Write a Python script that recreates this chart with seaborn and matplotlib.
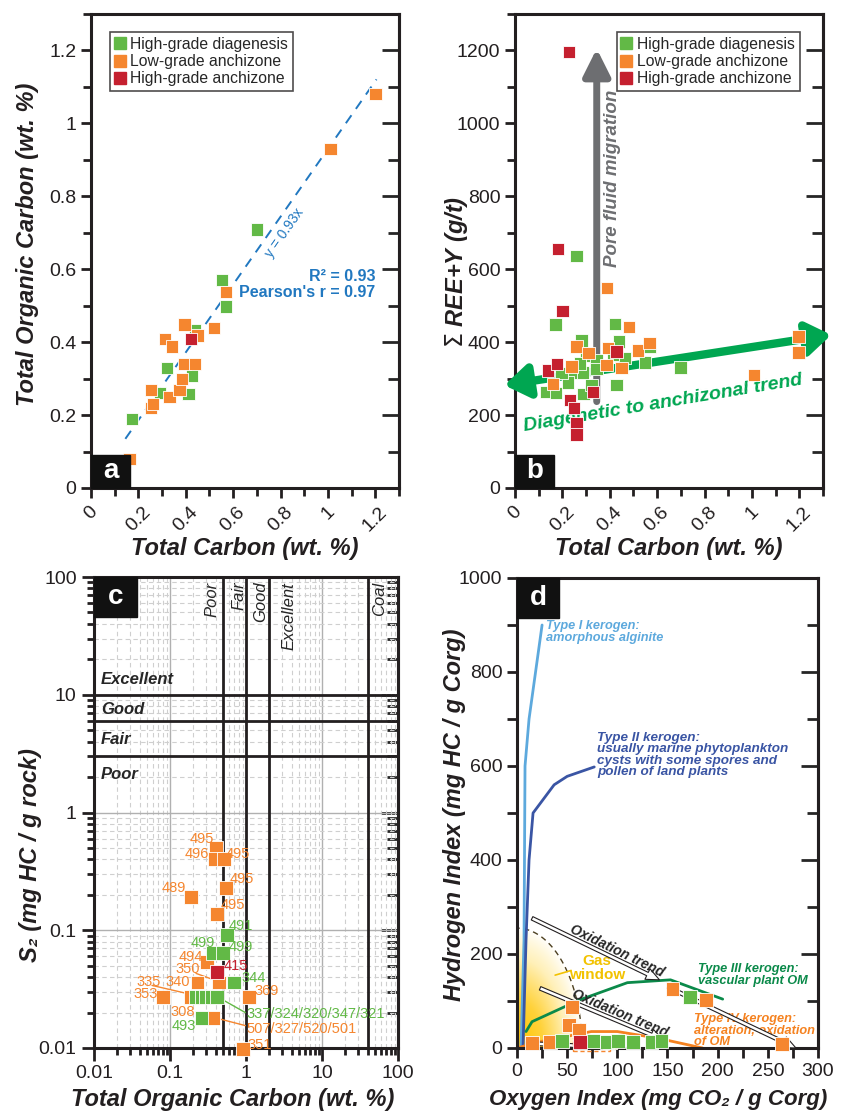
import numpy as np
import pandas as pd
import matplotlib
matplotlib.use("Agg")
import matplotlib.pyplot as plt
import seaborn as sns
from matplotlib.patches import Rectangle, FancyArrowPatch, Polygon
from matplotlib.lines import Line2D
from matplotlib.colors import LinearSegmentedColormap
from matplotlib.ticker import MultipleLocator, FixedLocator, FuncFormatter, NullFormatter

sns.set_style("white")
plt.rcParams['font.family'] = ['Liberation Sans', 'DejaVu Sans']

GREEN = "#62B946"
ORANGE = "#F5862F"
RED = "#C5202F"
grades = ["High-grade diagenesis", "Low-grade anchizone", "High-grade anchizone"]
grade_colors = dict(zip(grades, [GREEN, ORANGE, RED]))
G, O, R = grades

# ---- panel a: total carbon vs total organic carbon
a_tc = [0.173, 0.292, 0.412, 0.426, 0.321, 0.44, 0.553, 0.571, 0.70,
        0.163, 0.253, 0.262, 0.253, 0.332, 0.374, 0.384, 0.394, 0.44, 0.313, 0.342,
        0.394, 0.45, 0.52, 0.571, 1.01, 1.2,
        0.422]
a_toc = [0.189, 0.26, 0.258, 0.308, 0.329, 0.434, 0.57, 0.498, 0.709,
         0.079, 0.219, 0.231, 0.269, 0.249, 0.269, 0.299, 0.34, 0.34, 0.408, 0.388,
         0.448, 0.418, 0.439, 0.538, 0.929, 1.08,
         0.408]
a_grade = [G] * 9 + [O] * 17 + [R]
fit_slope = 0.93
fit_range = [0.145, 1.205]

# ---- panel b: total carbon vs sum REE+Y
b_tc = [0.26, 0.171, 0.421, 0.281, 0.438, 0.568, 0.698, 0.549, 0.463, 0.428, 0.133, 0.173,
        0.29, 0.323, 0.301, 0.344, 0.414, 0.245, 0.288, 0.344, 0.224, 0.197, 0.274,
        0.389, 0.48, 0.519, 1.197, 1.197, 1.008, 0.161, 0.26, 0.393, 0.386, 0.31, 0.449, 0.239, 0.568,
        0.229, 0.182, 0.20, 0.14, 0.178, 0.232, 0.248, 0.26, 0.26, 0.428, 0.33]
b_ree = [637, 448, 450, 405, 402, 386, 331, 344, 356, 283, 264, 260,
         258, 283, 362, 350, 365, 315, 317, 326, 289, 315, 342,
         548, 441, 377, 415, 372, 310, 286, 388, 384, 338, 370, 329, 333, 397,
         1196, 656, 486, 322, 340, 242, 219, 178, 147, 374, 264]
b_grade = [G] * 23 + [O] * 14 + [R] * 11

# ---- panel c: TOC vs S2 (sample numbers as labels)
c_toc = [0.40, 0.39, 0.51, 0.54, 0.19, 0.42, 0.31, 0.44, 0.23, 0.08, 0.19, 1.09, 0.37, 0.92,
         0.56, 0.37, 0.50, 0.70, 0.22, 0.26, 0.30, 0.36, 0.42, 0.26,
         0.41]
c_s2 = [0.50, 0.40, 0.40, 0.23, 0.19, 0.138, 0.054, 0.036, 0.036, 0.027, 0.027, 0.027, 0.018, 0.0098,
        0.091, 0.064, 0.064, 0.036, 0.027, 0.027, 0.027, 0.027, 0.027, 0.018,
        0.044]
c_grade = [O] * 14 + [G] * 10 + [R]
c_labels = [("495", 0.26, 0.60, O), ("496", 0.225, 0.444, O), ("495", 0.77, 0.444, O),
            ("495", 0.87, 0.27, O), ("489", 0.113, 0.229, O), ("495", 0.68, 0.164, O),
            ("491", 0.85, 0.108, G), ("499", 0.27, 0.078, G), ("499", 0.85, 0.072, G),
            ("494", 0.19, 0.0595, O), ("415", 0.74, 0.050, R), ("350", 0.17, 0.0466, O),
            ("344", 1.27, 0.039, G), ("340", 0.128, 0.0365, O), ("335", 0.053, 0.0365, O),
            ("353", 0.048, 0.0285, O), ("369", 1.87, 0.0305, O), ("308", 0.147, 0.0202, O),
            ("493", 0.15, 0.0153, G), ("351", 1.53, 0.0107, O)]
c_s2_classes = [3, 6, 10]
c_s2_names = ["Poor", "Fair", "Good", "Excellent"]
c_toc_classes = [0.5, 1, 2, 40]
c_toc_names = ["Poor", "Fair", "Good", "Excellent", "Coal"]

# ---- panel d: oxygen index vs hydrogen index
d_oi = [55, 52, 62, 155, 188, 264, 15, 33, 93,
        172, 45, 76, 90, 101, 116, 134, 144,
        63]
d_hi = [88, 48, 38, 125, 102, 8, 10, 12, 12,
        109, 14, 14, 12, 14, 12, 12, 14,
        12]
d_grade = [O] * 9 + [G] * 8 + [R]
type1_oi = [4, 7, 8, 12, 25]
type1_hi = [0, 230, 600, 700, 900]
type2_oi = [6, 9, 12, 16, 37, 50, 77]
type2_hi = [0, 230, 400, 500, 560, 578, 598]
type3_oi = [9, 15, 62, 110, 153, 205]
type3_hi = [35, 56, 102, 139, 145, 104]
type4_oi = [0, 24, 74, 100, 140, 185]
type4_hi = [0, 14, 35, 35, 21, 0]

W, H = 862, 1118
fig = plt.figure(figsize=(W / 100, H / 100), dpi=100)


def px_axes(l, t, r, b):
    return fig.add_axes([l / W, 1 - b / H, (r - l) / W, (b - t) / H])


ax_a = px_axes(91, 14, 399, 488)
ax_b = px_axes(515, 14, 823, 488)
ax_c = px_axes(94, 577, 398, 1048)
ax_d = px_axes(517, 578, 818, 1048)

LAB = dict(fontsize=17, fontweight="bold", fontstyle="italic", color="#231F20")
fmt = FuncFormatter(lambda v, p: "%g" % v)


def style(ax, logy=False):
    for s in ax.spines.values():
        s.set_linewidth(2.2)
        s.set_color("#231F20")
    ax.tick_params(which="both", direction="out", width=2, length=7, labelsize=14,
                   colors="#231F20", left=True, bottom=True, top=False, right=False)
    ax.tick_params(which="minor", length=6 if not logy else 5)
    sec = ax.secondary_yaxis("right")
    sec.tick_params(which="both", direction="in", width=2, length=12, labelright=False)
    sec.tick_params(which="minor", length=8)
    sec.spines["right"].set_linewidth(2.2)
    return sec


def panel_tag(ax, letter, x0, y0, w, h):
    ax.add_patch(Rectangle((x0, y0), w, h, transform=ax.transAxes, color="#111111", zorder=5,
                           clip_on=False))
    ax.text(x0 + w / 2, y0 + h / 2, letter, transform=ax.transAxes, color="white", fontsize=20,
            fontweight="bold", ha="center", va="center", zorder=6)


def legend(ax, loc, anchor):
    hs = [Line2D([], [], marker="s", ls="", color=grade_colors[g], markersize=9) for g in grades]
    lg = ax.legend(hs, grades, loc=loc, bbox_to_anchor=anchor, fontsize=11.3, frameon=True, fancybox=False,
                   edgecolor="#231F20", handlelength=0.6, handletextpad=0.4, borderpad=0.3,
                   labelspacing=0.15, borderaxespad=0)
    lg.get_frame().set_linewidth(1.2)
    lg.set_zorder(7)


def squares(ax, x, y, grade, size=80, clip=True):
    df = pd.DataFrame({"x": x, "y": y, "grade": grade})
    sns.scatterplot(data=df, x="x", y="y", hue="grade", palette=grade_colors, marker="s", s=size,
                    edgecolor="white", linewidth=0.6, legend=False, ax=ax, zorder=4, clip_on=clip)


# ================= panel a
squares(ax_a, a_tc, a_toc, a_grade)
fx = np.array(fit_range)
ax_a.plot(fx, fit_slope * fx, ls=(0, (5, 4)), color="#2178C0", lw=1.4, zorder=3)
ax_a.text(0.815, 0.70, "y = 0.93x", rotation=55, color="#2178C0", fontsize=10,
          ha="center", va="center", rotation_mode="anchor")
ax_a.text(1.2, 0.60, "R² = 0.93\nPearson's r = 0.97", color="#2178C0", fontsize=11.5,
          fontweight="bold", ha="right", va="top", linespacing=1.1)
ax_a.set_xlim(0, 1.3)
ax_a.set_ylim(0, 1.3)
ax_a.set_xlabel("Total Carbon (wt. %)", labelpad=2, **LAB)
ax_a.set_ylabel("Total Organic Carbon (wt. %)", **LAB)
ax_a.yaxis.set_label_coords(-0.17, 0.515)
for ax in (ax_a, ax_b):
    ax.xaxis.set_major_locator(MultipleLocator(0.2))
    ax.xaxis.set_minor_locator(MultipleLocator(0.1))
    ax.xaxis.set_major_formatter(fmt)
    ax.tick_params(axis="x", labelrotation=45, pad=4)
ax_a.yaxis.set_major_locator(MultipleLocator(0.2))
ax_a.yaxis.set_minor_locator(MultipleLocator(0.1))
ax_a.yaxis.set_major_formatter(fmt)
sa = style(ax_a)
sa.yaxis.set_major_locator(MultipleLocator(0.2))
sa.yaxis.set_minor_locator(MultipleLocator(0.1))
legend(ax_a, "upper left", (0.062, 0.962))
panel_tag(ax_a, "a", 0, 0, 0.127, 0.07)

# ================= panel b
squares(ax_b, b_tc, b_ree, b_grade)
ax_b.add_patch(FancyArrowPatch((0.345, 237), (0.345, 1205), arrowstyle="-|>,head_length=0.9,head_width=0.45",
                               lw=5, color="#6D6E71", mutation_scale=18, zorder=3, shrinkA=0, shrinkB=0))
ax_b.text(0.41, 850, "Pore fluid migration", rotation=90, color="#6D6E71", fontsize=13.5,
          fontweight="bold", fontstyle="italic", ha="center", va="center")
ax_b.add_patch(FancyArrowPatch((-0.045, 282), (1.335, 420), arrowstyle="<|-|>,head_length=0.8,head_width=0.55",
                               lw=6, color="#00A651", mutation_scale=18, zorder=3.5, shrinkA=0, shrinkB=0,
                               clip_on=False))
ax_b.text(0.625, 233, "Diagenetic to anchizonal trend", rotation=9.5, color="#00A651", fontsize=14,
          fontweight="bold", fontstyle="italic", ha="center", va="center", rotation_mode="anchor")
ax_b.set_xlim(0, 1.3)
ax_b.set_ylim(0, 1300)
ax_b.set_xlabel("Total Carbon (wt. %)", labelpad=2, **LAB)
ax_b.set_ylabel(r"$\Sigma$ REE+Y (g/t)", **LAB)
ax_b.yaxis.set_label_coords(-0.145, 0.456)
ax_b.yaxis.set_major_locator(MultipleLocator(200))
ax_b.yaxis.set_minor_locator(MultipleLocator(100))
sb = style(ax_b)
sb.yaxis.set_major_locator(MultipleLocator(200))
sb.yaxis.set_minor_locator(MultipleLocator(100))
legend(ax_b, "upper right", (0.925, 0.962))
panel_tag(ax_b, "b", 0, 0, 0.127, 0.07)

# ================= panel c
ax_c.set_xscale("log")
ax_c.set_yscale("log")
ax_c.set_xlim(0.01, 100)
ax_c.set_ylim(0.01, 100)
ax_c.grid(which="major", color="#B0B0B0", lw=1.0, ls="-", zorder=0)
ax_c.grid(which="minor", color="#CFCFCF", lw=0.8, ls=(0, (4, 3)), zorder=0)
for v in c_s2_classes:
    ax_c.axhline(v, color="#231F20", lw=2, zorder=2)
for v in c_toc_classes:
    ax_c.axvline(v, color="#231F20", lw=2, zorder=2)
for name, y in zip(c_s2_names[::-1], [13.4, 7.45, 4.18, 2.1]):
    ax_c.text(0.0124, y, name, fontsize=12, fontweight="bold", fontstyle="italic", va="center")
for name, x in zip(c_toc_names, [0.362, 0.81, 1.57, 3.68, 57]):
    ax_c.text(x, 91, name, rotation=90, fontsize=12, fontstyle="italic", ha="center", va="top")
squares(ax_c, c_toc, c_s2, c_grade, size=100, clip=False)
for txt, x, y, g in c_labels:
    ax_c.text(x, y, txt, color=grade_colors[g], fontsize=10.5, ha="center", va="center", zorder=5)
ax_c.plot([0.058, 0.19], [0.034, 0.0285], color=ORANGE, lw=1, zorder=3)
ax_c.plot([0.22, 0.42], [0.043, 0.037], color=ORANGE, lw=1, zorder=3)
ax_c.plot([0.43, 0.98], [0.027, 0.020], color=GREEN, lw=1, zorder=3)
ax_c.plot([0.40, 0.98], [0.018, 0.0155], color=ORANGE, lw=1, zorder=3)
ax_c.text(1.02, 0.0195, "337/324/320/347/321", color=GREEN, fontsize=10.5, ha="left", va="center", zorder=5)
ax_c.text(1.02, 0.0145, "507/327/520/501", color=ORANGE, fontsize=10.5, ha="left", va="center", zorder=5)
decades = [0.01, 0.1, 1, 10, 100]
minors = [m * d for d in decades[:-1] for m in range(2, 10)]
for axis in (ax_c.xaxis, ax_c.yaxis):
    axis.set_major_locator(FixedLocator(decades))
    axis.set_minor_locator(FixedLocator(minors))
    axis.set_major_formatter(fmt)
    axis.set_minor_formatter(NullFormatter())
ax_c.set_xlabel("Total Organic Carbon (wt. %)", **LAB)
ax_c.xaxis.set_label_coords(0.457, -0.085)
ax_c.set_ylabel("S₂ (mg HC / g rock)", **LAB)
ax_c.yaxis.set_label_coords(-0.17, 0.41)
sc = style(ax_c, logy=True)
sc.yaxis.set_major_locator(FixedLocator(decades))
sc.yaxis.set_minor_locator(FixedLocator(minors))
sc.yaxis.set_minor_formatter(NullFormatter())
ax_c.tick_params(which="major", length=9)
panel_tag(ax_c, "c", 0, 0.915, 0.141, 0.085)

# ================= panel d
gx = np.linspace(0, 66, 200)
gy = np.linspace(0, 256, 200)
GX, GY = np.meshgrid(gx, gy)
rad = np.sqrt((GX / 65) ** 2 + (GY / 255) ** 2)
gas_cmap = LinearSegmentedColormap.from_list("gas", ["#FFFFFF", "#FFF0B8", "#FFD23A", "#FFC400"])
img = ax_d.imshow(np.clip(1 - rad, 0, 1) ** 0.8, extent=(0, 66, 0, 256), origin="lower", cmap=gas_cmap,
                  aspect="auto", zorder=0, vmin=0, vmax=1)
th = np.linspace(0, np.pi / 2, 60)
ell_x = np.r_[0, 65 * np.cos(th)]
ell_y = np.r_[0, 255 * np.sin(th)]
clip = Polygon(np.c_[ell_x, ell_y], closed=True, transform=ax_d.transData, facecolor="none", edgecolor="none")
ax_d.add_patch(clip)
img.set_clip_path(clip)
ax_d.plot(65 * np.cos(th), 255 * np.sin(th), ls=(0, (4, 3)), color="#4D4020", lw=1, zorder=1)
ax_d.text(80, 170, "Gas\nwindow", color="#F2C200", fontsize=11, fontweight="bold", ha="center",
          va="center", linespacing=1.0, zorder=3)
ax_d.plot([38, 54], [155, 165], color="#F2C200", lw=1.2, zorder=3)

ax_d.plot(type1_oi, type1_hi, color="#5DA9DD", lw=2)
ax_d.plot(type2_oi, type2_hi, color="#3A55A4", lw=2)
ax_d.plot(type3_oi, type3_hi, color="#0B8A4A", lw=2)
ax_d.plot(type4_oi, type4_hi, color="#F58220", lw=2)
KT = dict(fontweight="bold", fontstyle="italic", va="top", ha="left", linespacing=0.92)
ax_d.text(29, 910, "Type I kerogen:\namorphous alginite", color="#5DA9DD", fontsize=9.2, **KT)
ax_d.text(80, 672, "Type II kerogen:\nusually marine phytoplankton\ncysts with some spores and\npollen of land plants",
          color="#3A55A4", fontsize=9.7, **KT)
ax_d.text(180, 180, "Type III kerogen:\nvascular plant OM", color="#0B8A4A", fontsize=9.2, **KT)
ax_d.text(176, 74, "Type IV kerogen:\nalteration, oxidation\nof OM", color="#F58220", fontsize=9.2, **KT)

oxid_arrows = [((15, 276), (142, 145)), ((23, 127), (146, 17)), ((150, 130), (278, 0)), ((9, 10), (108, 0))]
for (p0, p1) in oxid_arrows:
    ax_d.add_patch(FancyArrowPatch(p0, p1, arrowstyle="simple,head_length=0.8,head_width=0.7,tail_width=0.22",
                                   mutation_scale=12, facecolor="white", edgecolor="#231F20", lw=0.8,
                                   zorder=3, shrinkA=0, shrinkB=0))
ax_d.text(100, 206, "Oxidation trend", rotation=-26, fontsize=10, fontweight="bold", fontstyle="italic",
          ha="center", va="center", rotation_mode="anchor", zorder=3)
ax_d.text(103, 74, "Oxidation trend", rotation=-23, fontsize=10, fontweight="bold", fontstyle="italic",
          ha="center", va="center", rotation_mode="anchor", zorder=3)
ax_d.add_patch(Rectangle((56, -6), 37, 28, fill=False, edgecolor=ORANGE, lw=1, ls=(0, (3, 2)),
                         zorder=3.8, clip_on=False))
squares(ax_d, d_oi, d_hi, d_grade, size=100, clip=False)
ax_d.set_xlim(0, 300)
ax_d.set_ylim(0, 1000)
ax_d.xaxis.set_major_locator(MultipleLocator(50))
ax_d.xaxis.set_minor_locator(MultipleLocator(25))
ax_d.yaxis.set_major_locator(MultipleLocator(200))
ax_d.yaxis.set_minor_locator(MultipleLocator(100))
ax_d.set_xlabel("Oxygen Index (mg CO₂ / g Corg)", **dict(LAB, fontsize=16))
ax_d.xaxis.set_label_coords(0.47, -0.088)
ax_d.set_ylabel("Hydrogen Index (mg HC / g Corg)", **LAB)
ax_d.yaxis.set_label_coords(-0.17, 0.496)
sd = style(ax_d)
sd.yaxis.set_major_locator(MultipleLocator(200))
sd.yaxis.set_minor_locator(MultipleLocator(100))
ax_d.tick_params(which="minor", length=7)
panel_tag(ax_d, "d", 0, 0.915, 0.141, 0.085)

fig.savefig("out.png", dpi=100)
